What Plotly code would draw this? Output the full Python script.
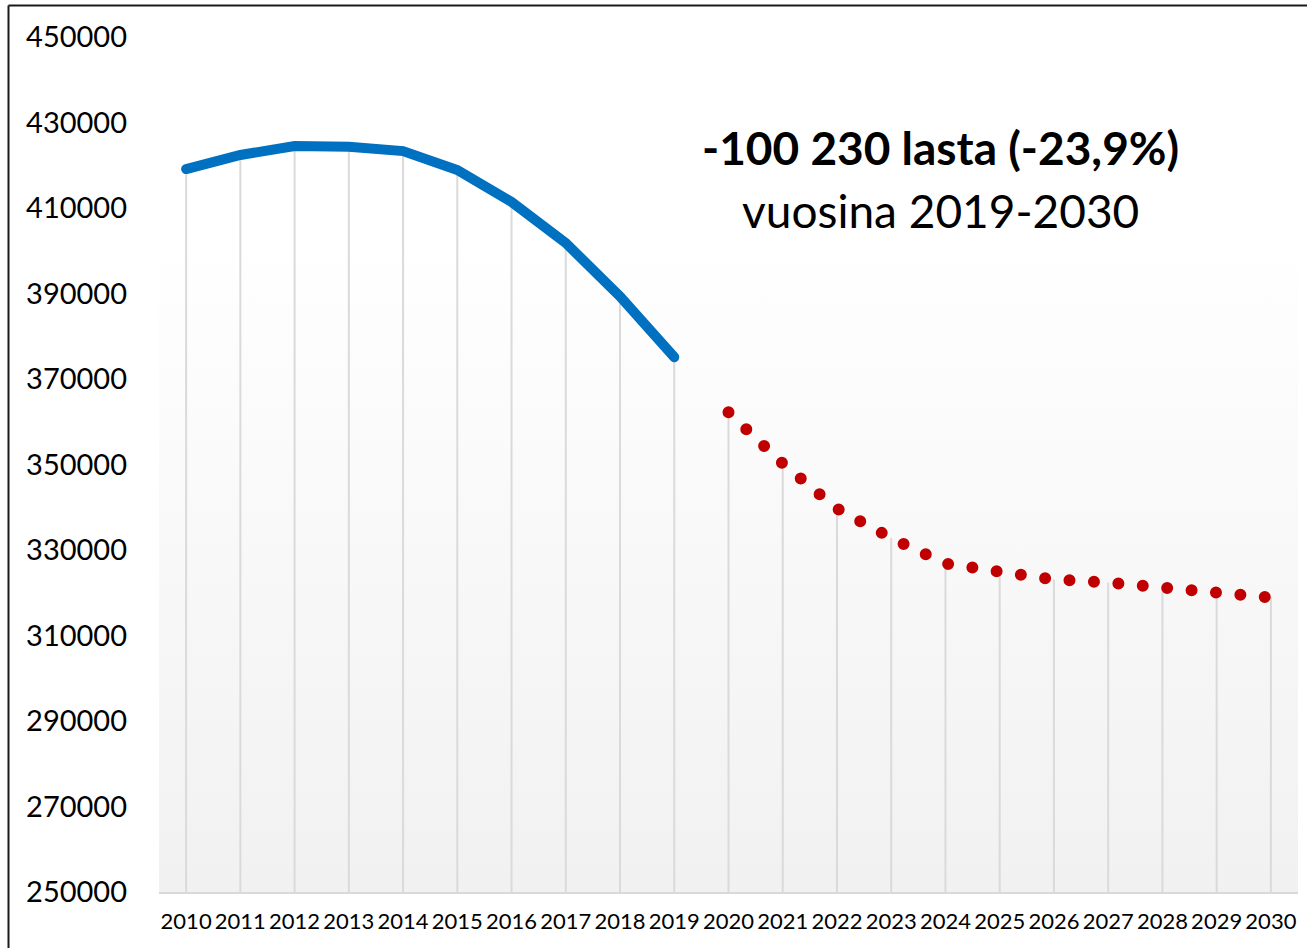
import plotly.graph_objects as go

# ---- data ----
hist_years = [2010, 2011, 2012, 2013, 2014, 2015, 2016, 2017, 2018, 2019]
hist_values = [419100, 422400, 424500, 424300, 423300, 418900, 411400, 401800, 389300, 375100]
proj_years = [2020, 2021, 2022, 2023, 2024, 2025, 2026, 2027, 2028, 2029, 2030]
proj_values = [362200, 350200, 339700, 332800, 326800, 324700, 323100, 322400, 321200, 320000, 318900]
y_ticks = [250000, 270000, 290000, 310000, 330000, 350000, 370000, 390000, 410000, 430000, 450000]
y_tick_labels = [str(v) for v in y_ticks]
all_years = hist_years + proj_years
x_tick_labels = [str(y) for y in all_years]
title_line1 = "<b>-100 230 lasta (-23,9%)</b>"
title_line2 = "vuosina 2019-2030"

y_min, y_max = y_ticks[0], y_ticks[-1]
x_min, x_max = all_years[0] - 0.5, all_years[-1] + 0.5

W, H = 1307, 948
ML, MR, MT, MB = 159, 9, 37, 56
PW, PH = W - ML - MR, H - MT - MB

def px_x(p):
    return (p - ML) / PW

def px_y(p):
    return (H - MB - p) / PH

FONT = "Lato, 'Open Sans', sans-serif"

fig = go.Figure()

# gradient plot-area background
fig.add_trace(go.Scatter(
    x=[x_min, x_max, x_max, x_min, x_min],
    y=[y_min, y_min, y_max, y_max, y_min],
    mode="lines", line=dict(width=0), fill="toself",
    fillgradient=dict(type="vertical",
                      colorscale=[[0, "#f1f1f1"], [0.77, "#ffffff"], [1, "#ffffff"]]),
    hoverinfo="skip", showlegend=False,
))

# drop lines
all_values = hist_values + proj_values
fig.add_trace(go.Scatter(
    x=all_years, y=all_values, mode="markers",
    marker=dict(size=1, opacity=0),
    error_y=dict(type="data", symmetric=False,
                 array=[0] * len(all_values),
                 arrayminus=[v - y_min for v in all_values],
                 width=0, thickness=2, color="#dadada"),
    hoverinfo="skip", showlegend=False,
))

# historical line
fig.add_trace(go.Scatter(
    x=hist_years, y=hist_values, mode="lines",
    line=dict(color="#0070c0", width=10),
    showlegend=False,
))

# projection dotted line
fig.add_trace(go.Scatter(
    x=proj_years, y=proj_values, mode="lines",
    line=dict(color="#c00000", width=12, dash="0px,24.5px"),
    showlegend=False,
))

fig.update_layout(
    width=W, height=H,
    margin=dict(l=ML, r=MR, t=MT, b=MB),
    paper_bgcolor="white", plot_bgcolor="white",
    font=dict(family=FONT, color="black"),
    xaxis=dict(range=[x_min, x_max], tickmode="array", tickvals=all_years,
               ticktext=x_tick_labels, showgrid=False, zeroline=False,
               showline=True, linecolor="#d9d9d9", linewidth=2,
               tickfont=dict(size=22, family=FONT), ticks="",
               ticklabelstandoff=9),
    yaxis=dict(range=[y_min, y_max], tickmode="array", tickvals=y_ticks,
               ticktext=y_tick_labels, showgrid=False, zeroline=False,
               showline=False, tickfont=dict(size=29, family=FONT), ticks="",
               ticklabelstandoff=31),
    annotations=[
        dict(text=title_line1, x=px_x(940), y=px_y(147), xref="paper", yref="paper",
             xanchor="center", yanchor="middle", showarrow=False,
             font=dict(size=46, family=FONT, color="black")),
        dict(text=title_line2, x=px_x(940), y=px_y(210), xref="paper", yref="paper",
             xanchor="center", yanchor="middle", showarrow=False,
             font=dict(size=46, family=FONT, color="black")),
    ],
    shapes=[
        dict(type="line", xref="paper", yref="paper",
             x0=px_x(8.5), x1=px_x(8.5), y0=px_y(960), y1=px_y(5.5),
             line=dict(color="#1a1a1a", width=2)),
        dict(type="line", xref="paper", yref="paper",
             x0=px_x(8.5), x1=px_x(1320), y0=px_y(5.5), y1=px_y(5.5),
             line=dict(color="#1a1a1a", width=2)),
    ],
)

post = ("document.body.style.margin='0';"
        "var s=document.createElement('style');"
        "s.textContent='.js-line{stroke-linecap:round !important;}';"
        "document.head.appendChild(s);")
fig.write_html("out.html", post_script=post, config={"displayModeBar": False})
